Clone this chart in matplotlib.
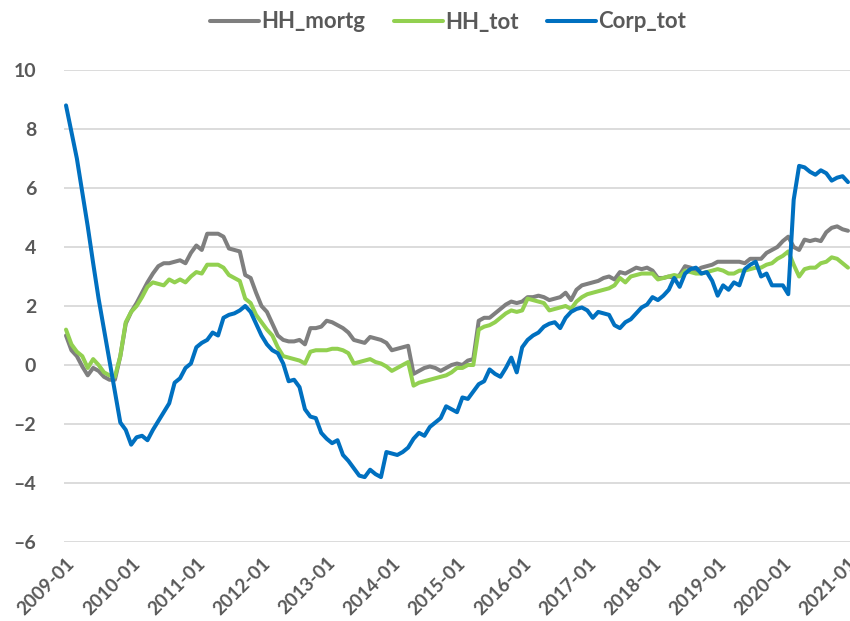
import numpy as np
import matplotlib
matplotlib.use("Agg")
from matplotlib import pyplot as plt

# monthly series, 2009-01 .. 2021-01
start_year = 2009
end_year = 2021

hh_mortg = [
    1.0, 0.5, 0.3, -0.05, -0.35, -0.1, -0.2, -0.4, -0.5, -0.5, 0.3, 1.4,
    1.8, 2.1, 2.45, 2.8, 3.1, 3.35, 3.45, 3.45, 3.5, 3.55, 3.45, 3.8,
    4.05, 3.9, 4.45, 4.45, 4.45, 4.35, 3.95, 3.9, 3.85, 3.05, 2.95, 2.45,
    2.0, 1.8, 1.4, 1.0, 0.85, 0.8, 0.8, 0.85, 0.7, 1.25, 1.25, 1.3,
    1.5, 1.45, 1.35, 1.25, 1.1, 0.85, 0.8, 0.75, 0.95, 0.9, 0.85, 0.75,
    0.5, 0.55, 0.6, 0.65, -0.3, -0.2, -0.1, -0.05, -0.1, -0.2, -0.1, 0.0,
    0.05, 0.0, 0.15, 0.2, 1.5, 1.6, 1.6, 1.75, 1.9, 2.05, 2.15, 2.1,
    2.15, 2.3, 2.3, 2.35, 2.3, 2.2, 2.25, 2.3, 2.45, 2.2, 2.55, 2.7,
    2.75, 2.8, 2.85, 2.95, 3.0, 2.9, 3.15, 3.1, 3.2, 3.3, 3.25, 3.3,
    3.2, 2.95, 2.95, 3.0, 2.95, 3.05, 3.35, 3.3, 3.2, 3.3, 3.35, 3.4,
    3.5, 3.5, 3.5, 3.5, 3.5, 3.45, 3.6, 3.6, 3.6, 3.8, 3.9, 4.0,
    4.2, 4.35, 4.0, 3.9, 4.25, 4.2, 4.25, 4.2, 4.5, 4.65, 4.7, 4.6,
    4.55,
]

hh_tot = [
    1.2, 0.7, 0.45, 0.3, -0.1, 0.2, 0.0, -0.25, -0.35, -0.4, 0.3, 1.45,
    1.8, 2.0, 2.3, 2.65, 2.8, 2.75, 2.7, 2.9, 2.8, 2.9, 2.8, 3.0,
    3.15, 3.1, 3.4, 3.4, 3.4, 3.3, 3.05, 2.95, 2.85, 2.25, 2.1, 1.7,
    1.45, 1.2, 1.0, 0.6, 0.3, 0.25, 0.2, 0.15, 0.05, 0.45, 0.5, 0.5,
    0.5, 0.55, 0.55, 0.5, 0.4, 0.05, 0.1, 0.15, 0.2, 0.1, 0.05, -0.05,
    -0.2, -0.1, 0.0, 0.1, -0.7, -0.6, -0.55, -0.5, -0.45, -0.4, -0.35, -0.25,
    -0.1, -0.1, 0.0, 0.0, 1.2, 1.3, 1.35, 1.45, 1.6, 1.75, 1.85, 1.8,
    1.85, 2.25, 2.2, 2.15, 2.1, 1.85, 1.9, 1.95, 2.0, 1.9, 2.15, 2.3,
    2.4, 2.45, 2.5, 2.55, 2.6, 2.7, 2.95, 2.8, 3.0, 3.05, 3.1, 3.1,
    3.1, 2.9, 2.95, 3.0, 3.05, 3.0, 3.2, 3.15, 3.1, 3.1, 3.15, 3.2,
    3.25, 3.2, 3.1, 3.1, 3.2, 3.2, 3.25, 3.3, 3.3, 3.4, 3.45, 3.6,
    3.7, 3.85, 3.4, 3.0, 3.25, 3.3, 3.3, 3.45, 3.5, 3.65, 3.6, 3.45,
    3.3,
]

corp_tot = [
    8.8, 7.9, 7.0, 5.85, 4.7, 3.45, 2.25, 1.2, 0.15, -0.9, -1.95, -2.2,
    -2.7, -2.45, -2.4, -2.55, -2.2, -1.9, -1.6, -1.3, -0.6, -0.45, -0.1, 0.05,
    0.6, 0.75, 0.85, 1.1, 1.0, 1.6, 1.7, 1.75, 1.85, 2.0, 1.8, 1.4,
    1.0, 0.7, 0.5, 0.4, 0.05, -0.55, -0.5, -0.75, -1.5, -1.75, -1.8, -2.3,
    -2.5, -2.65, -2.55, -3.05, -3.25, -3.5, -3.75, -3.8, -3.55, -3.7, -3.8, -2.95,
    -3.0, -3.05, -2.95, -2.8, -2.5, -2.3, -2.4, -2.1, -1.95, -1.8, -1.4, -1.5,
    -1.6, -1.1, -1.15, -0.9, -0.65, -0.55, -0.15, -0.3, -0.4, -0.1, 0.25, -0.25,
    0.6, 0.85, 1.0, 1.1, 1.3, 1.4, 1.45, 1.25, 1.6, 1.8, 1.9, 1.95,
    1.85, 1.6, 1.8, 1.75, 1.7, 1.35, 1.25, 1.45, 1.55, 1.75, 1.95, 2.05,
    2.3, 2.2, 2.35, 2.55, 2.95, 2.65, 3.1, 3.25, 3.3, 3.1, 3.15, 2.85,
    2.35, 2.7, 2.55, 2.8, 2.7, 3.25, 3.4, 3.5, 3.0, 3.1, 2.7, 2.7,
    2.7, 2.4, 5.6, 6.75, 6.7, 6.55, 6.45, 6.6, 6.5, 6.25, 6.35, 6.4,
    6.2,
]

series = {"HH_mortg": hh_mortg, "HH_tot": hh_tot, "Corp_tot": corp_tot}
colors = {"HH_mortg": "#7f7f7f", "HH_tot": "#92d050", "Corp_tot": "#0070c0"}

n = len(hh_mortg)
x = np.arange(n)
tick_pos = np.arange(0, n, 12)
tick_labels = [f"{y}-01" for y in range(start_year, end_year + 1)]

plt.rcParams['font.family'] = ['Lato', 'DejaVu Sans']
txt_col = "#595959"

fig = plt.figure(figsize=(8.5, 6.21), dpi=100)
ax = fig.add_axes([64 / 850, 1 - 542 / 621, 786 / 850, 472 / 621])

for name, vals in series.items():
    ax.plot(x, vals, color=colors[name], lw=2.9, label=name,
            solid_joinstyle='round', solid_capstyle='round', zorder=3)

ax.set_xlim(-0.37, n - 1 + 0.37)
ax.set_ylim(-6, 10)
ax.set_yticks(np.arange(-6, 11, 2))
ax.set_yticklabels([f"{v}" if v >= 0 else f"\u2013{-v}" for v in range(-6, 11, 2)])
ax.set_xticks(tick_pos)
ax.set_xticklabels(tick_labels, rotation=45, ha='right', va='top',
                   rotation_mode='anchor')

ax.grid(axis='y', color='#d9d9d9', lw=1.3, zorder=0)
ax.grid(axis='x', visible=False)
for s in ax.spines.values():
    s.set_visible(False)
ax.tick_params(axis='both', length=0, colors=txt_col)
ax.tick_params(axis='y', pad=20, labelsize=14)
ax.tick_params(axis='x', pad=9, labelsize=13.5)
for lab in ax.get_xticklabels() + ax.get_yticklabels():
    lab.set_fontweight('bold')

fig.legend(loc='center', bbox_to_anchor=(448 / 850, 1 - 22 / 621), ncol=3,
           frameon=False, handlelength=2.2, handletextpad=0.1,
           columnspacing=1.3, prop={'size': 16, 'weight': 'bold'},
           labelcolor=txt_col)

fig.savefig("out.png", dpi=100)
